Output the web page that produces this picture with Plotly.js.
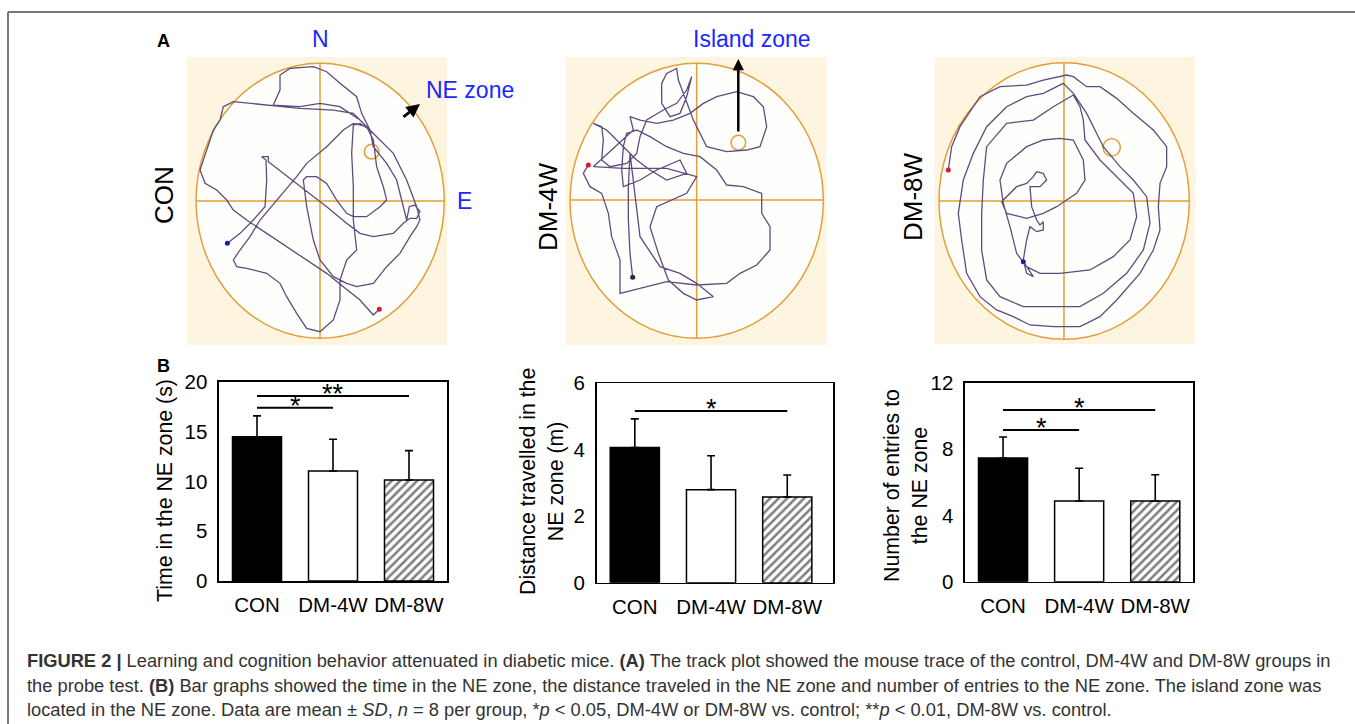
<!DOCTYPE html>
<html>
<head>
<meta charset="utf-8">
<script src="https://cdn.plot.ly/plotly-3.0.1.min.js"></script>
<style>html,body{margin:0;padding:0;background:#fff;}#chart{width:1355px;height:724px;}</style>
</head>
<body>
<div id="chart"></div>
<script>
// ---------- DATA ----------
const groups = ['CON', 'DM-4W', 'DM-8W'];

const timeMean = [14.5, 11.05, 10.15];
const timeSD = [2.1, 3.2, 2.95];
const distMean = [4.07, 2.8, 2.58];
const distSD = [0.86, 1.02, 0.66];
const entriesMean = [7.46, 4.87, 4.87];
const entriesSD = [1.27, 1.97, 1.58];

const sigTimeFrom = [0, 0], sigTimeTo = [1, 2], sigTimeY = [17.4, 18.6], sigTimeLabel = ['*', '**'];
const sigDistFrom = [0], sigDistTo = [2], sigDistY = [5.17], sigDistLabel = ['*'];
const sigEntFrom = [0, 0], sigEntTo = [1, 2], sigEntY = [9.15, 10.36], sigEntLabel = ['*', '*'];

// Track plots (arena image units, y downward)
const conTrackX = [262,300,340,375,380,378,365,385,385,430,500,560,620,660,700,760,790,810,830,840,825,808,800,790,770,740,700,690,660,640,635,640,640,650,620,600,600,580,540,500,470,440,420,380,320,290,280,300,330,360,420,470,500,560,610,640,680,700,705,710,730,740,720,680,640,620,590,560,530,500,490,500,520,540,580,620,650,700,740,780,810,830,840,830,800,760,710,660,600,540,480,400,420,420,450,520,560,600,650,665,690,700,690,640,580,480,330,280,250,240,220,200,180,195,230,260,280,320,380,440,500,560,610,660,700,718];
const conTrackY = [670,640,600,560,480,420,410,410,425,460,515,560,610,640,650,640,610,595,595,575,555,560,600,560,480,430,380,330,310,315,400,500,600,690,720,780,840,900,935,925,880,830,790,760,745,740,720,690,650,600,530,470,430,380,330,310,320,360,400,440,500,540,560,590,590,580,540,490,470,470,480,560,660,720,770,790,800,790,740,700,650,620,600,560,480,400,350,300,260,250,260,255,210,165,145,140,155,190,230,280,330,380,330,280,270,265,250,245,260,300,330,390,450,490,510,540,570,600,640,680,720,760,800,840,885,868];

const dm4TrackX = [145,130,150,185,205,215,240,240,300,380,470,560,600,650,690,690,665,665,610,560,530,480,430,380,330,290,260,250,245,250,300,350,420,440,380,330,290,250,200,160,185,190,185,210,260,290,300,320,370,410,440,455,440,420,390,365,365,380,410,415,430,460,480,500,560,620,660,680,670,640,590,530,490,450,400,350,300,270,280,160,250,380,470,440,350,330,355,385,430,470,520,470,420,360,300,290,270,265,265,270,278];
const dm4TrackY = [435,460,500,520,580,650,720,820,805,785,795,790,760,735,690,620,580,520,500,495,450,410,400,380,350,330,340,380,450,500,480,450,420,460,480,450,420,380,330,310,320,360,420,440,430,400,350,300,270,250,210,170,230,280,290,250,190,160,145,180,220,300,340,380,395,390,380,320,260,230,215,230,250,280,300,310,300,290,330,440,445,445,470,520,560,620,700,780,820,840,830,790,760,740,650,560,400,500,600,700,772];

const dm8TrackX = [145,155,180,240,300,380,430,500,520,560,600,650,700,760,800,800,780,775,780,760,720,650,600,540,460,390,340,290,240,200,185,175,190,220,260,320,380,430,490,520,560,610,660,700,740,750,730,680,610,540,450,370,300,260,245,245,250,260,320,400,460,520,540,550,555,600,700,710,690,640,570,480,420,380,350,330,310,300,320,380,430,480,520,550,555,530,500,470,430,380,320,305,350,380,400,410,430,440,420,390,395,410,420,430,430,410,390,380,370,380,400,370];
const dm8TrackY = [390,320,260,170,140,135,120,105,110,140,140,175,220,270,320,380,430,500,570,630,700,780,830,860,860,855,830,810,770,700,600,520,420,340,260,200,170,160,130,160,220,320,380,420,470,550,630,700,760,800,800,800,770,720,630,520,420,320,250,240,200,165,200,240,300,360,460,530,600,650,690,700,700,680,640,560,490,420,370,320,300,295,300,360,420,460,480,500,520,535,520,485,440,430,410,395,400,420,440,440,500,540,555,545,570,575,560,600,660,700,710,665];

// ---------- LAYOUT HELPERS ----------
const W = 1355, H = 724;
const fx = p => p / W;
const fy = p => 1 - p / H;
const FONT = 'Liberation Sans, Arial, Helvetica, sans-serif';
const BLUE = 'rgb(25,40,255)';
const ORANGE = 'rgb(228,158,58)';
const TRACK = 'rgb(95,75,125)';

const data = [];
const shapes = [];
const annotations = [];
const layout = {
  width: W, height: H,
  margin: {l: 0, r: 0, t: 0, b: 0},
  paper_bgcolor: '#ffffff',
  plot_bgcolor: 'rgba(0,0,0,0)',
  showlegend: false,
  barmode: 'overlay',
  font: {family: FONT, color: '#000', size: 20},
  shapes: shapes,
  annotations: annotations
};

// ---------- BAR PANELS ----------
const barFills = ['#000000', '#ffffff', '#ffffff'];
const barHatch = ['', '', '/'];

function barPanel(idx, mean, sd, yMax, dtick, sigFrom, sigTo, sigY, sigLabel, dom, xMax, yTitle, titlePos) {
  const xa = 'x' + idx, ya = 'y' + idx;
  groups.forEach((g, i) => {
    const marker = {color: barFills[i], line: {color: '#000', width: 1.5}};
    if (barHatch[i]) marker.pattern = {shape: barHatch[i], fgcolor: '#000', bgcolor: '#fff', size: 6, solidity: 0.42, fillmode: 'overlay'};
    data.push({
      type: 'bar', x: [g], y: [mean[i]], xaxis: xa, yaxis: ya, width: 0.645,
      marker: marker,
      error_y: {type: 'data', symmetric: false, array: [sd[i]], arrayminus: [0], color: '#000', thickness: 1.6, width: 4},
      hoverinfo: 'skip'
    });
  });
  for (let i = 0; i < sigFrom.length; i++) {
    data.push({
      type: 'scatter', mode: 'lines', xaxis: xa, yaxis: ya,
      x: [groups[sigFrom[i]], groups[sigTo[i]]], y: [sigY[i], sigY[i]],
      line: {color: '#000', width: 2}, hoverinfo: 'skip'
    });
    annotations.push({
      xref: xa, yref: ya, x: (sigFrom[i] + sigTo[i]) / 2, y: sigY[i],
      text: sigLabel[i], showarrow: false, yanchor: 'bottom', xanchor: 'center', yshift: -15,
      font: {size: 27, family: FONT, color: '#000'}
    });
  }
  layout['xaxis' + idx] = {
    domain: [fx(dom[0]), fx(dom[1])], anchor: ya, range: [-0.5, xMax], type: 'category',
    categoryorder: 'array', categoryarray: groups,
    showline: true, linecolor: '#000', linewidth: 1.6, mirror: true,
    ticks: 'outside', ticklen: 5, tickcolor: 'rgba(0,0,0,0)',
    tickfont: {size: 20.5, family: FONT, color: '#000'}, showgrid: false, zeroline: false, fixedrange: true
  };
  layout['yaxis' + idx] = {
    domain: [fy(dom[3]), fy(dom[2])], anchor: xa, range: [0, yMax], dtick: dtick,
    showline: true, linecolor: '#000', linewidth: 1.6, mirror: true,
    ticks: 'outside', ticklen: 6, tickcolor: 'rgba(0,0,0,0)',
    tickfont: {size: 20.5, family: FONT, color: '#000'}, showgrid: false, zeroline: false, fixedrange: true
  };
  annotations.push({
    xref: 'paper', yref: 'paper', x: fx(titlePos[0]), y: fy(titlePos[1]),
    text: yTitle, textangle: -90, showarrow: false, xanchor: 'center', yanchor: 'middle',
    font: {size: 21.3, family: FONT, color: '#000'}
  });
}

barPanel(1, timeMean, timeSD, 20, 5, sigTimeFrom, sigTimeTo, sigTimeY, sigTimeLabel,
  [219, 447, 382, 581], 2.5, 'Time in the NE zone (s)', [165, 491]);
barPanel(2, distMean, distSD, 6, 2, sigDistFrom, sigDistTo, sigDistY, sigDistLabel,
  [596.7, 833, 383.3, 582.7], 2.6, 'Distance travelled in the<br>NE zone (m)', [542, 482]);
barPanel(3, entriesMean, entriesSD, 12, 4, sigEntFrom, sigEntTo, sigEntY, sigEntLabel,
  [965, 1193.3, 382.7, 581.7], 2.5, 'Number of entries to<br>the NE zone', [906, 486]);

// ---------- TRACK PANELS ----------
function trackPanel(idx, tx, ty, xr, yr, circ, ctr, tgt, dom, startColor, endColor) {
  const xa = 'x' + idx, ya = 'y' + idx;
  layout['xaxis' + idx] = {domain: [fx(dom[0]), fx(dom[1])], anchor: ya, range: xr, visible: false, fixedrange: true};
  layout['yaxis' + idx] = {domain: [fy(dom[3]), fy(dom[2])], anchor: xa, range: yr, visible: false, fixedrange: true};
  shapes.push({type: 'rect', xref: xa, yref: ya, x0: xr[0], x1: xr[1], y0: yr[0], y1: yr[1],
    fillcolor: 'rgb(253,245,224)', line: {width: 0}, layer: 'below'});
  shapes.push({type: 'circle', xref: xa, yref: ya, x0: circ[0], y0: circ[1], x1: circ[2], y1: circ[3],
    fillcolor: 'rgb(254,254,252)', line: {color: ORANGE, width: 1.5}, layer: 'below'});
  shapes.push({type: 'line', xref: xa, yref: ya, x0: circ[0], x1: circ[2], y0: ctr[1], y1: ctr[1],
    line: {color: ORANGE, width: 1.5}, layer: 'below'});
  shapes.push({type: 'line', xref: xa, yref: ya, x0: ctr[0], x1: ctr[0], y0: circ[1], y1: circ[3],
    line: {color: ORANGE, width: 1.5}, layer: 'below'});
  shapes.push({type: 'circle', xref: xa, yref: ya, x0: tgt[0] - tgt[2], x1: tgt[0] + tgt[2], y0: tgt[1] - tgt[2], y1: tgt[1] + tgt[2],
    line: {color: ORANGE, width: 1.5}, fillcolor: 'rgba(0,0,0,0)', layer: 'below'});
  data.push({type: 'scatter', mode: 'lines', x: tx, y: ty, xaxis: xa, yaxis: ya,
    line: {color: TRACK, width: 1.3}, hoverinfo: 'skip'});
  data.push({type: 'scatter', mode: 'markers', xaxis: xa, yaxis: ya,
    x: [tx[0], tx[tx.length - 1]], y: [ty[0], ty[ty.length - 1]],
    marker: {size: 5, color: [startColor, endColor]}, hoverinfo: 'skip'});
}

trackPanel(4, conTrackX, conTrackY, [140, 922], [975, 110], [168, 130, 913, 955], [540, 543], [695, 395, 22],
  [186.7, 447.3, 56.7, 345], 'rgb(30,30,160)', 'rgb(230,20,40)');
trackPanel(5, dm4TrackX, dm4TrackY, [78, 860], [975, 110], [90, 130, 850, 955], [470, 540], [595, 368, 22],
  [566, 826.7, 56.7, 345], 'rgb(230,20,40)', 'rgb(50,30,70)');
trackPanel(6, dm8TrackX, dm8TrackY, [103, 885], [913, 50], [117, 68, 868, 898], [492, 483], [635, 322, 26],
  [934.3, 1195, 56.7, 344.3], 'rgb(230,20,40)', 'rgb(30,30,160)');

// ---------- TEXT / LABELS ----------
function txt(x, y, text, size, color, extra) {
  annotations.push(Object.assign({xref: 'paper', yref: 'paper', x: fx(x), y: fy(y), text: text,
    showarrow: false, xanchor: 'center', yanchor: 'middle', font: {size: size, family: FONT, color: color}}, extra || {}));
}
txt(163, 41, '<b>A</b>', 18, '#000');
txt(163, 366, '<b>B</b>', 18, '#000');
txt(320, 39, 'N', 23, BLUE);
txt(470, 90, 'NE zone', 23, BLUE);
txt(464, 201, 'E', 23, BLUE);
txt(752, 39, 'Island zone', 23, BLUE);
txt(164, 195, 'CON', 26, '#000', {textangle: -90});
txt(548, 207, 'DM-4W', 26, '#000', {textangle: -90});
txt(913, 197, 'DM-8W', 26, '#000', {textangle: -90});

// arrows
annotations.push({xref: 'paper', yref: 'paper', x: fx(420), y: fy(104), ax: -18, ay: 14, text: '',
  showarrow: true, arrowhead: 2, arrowsize: 0.9, arrowwidth: 3, arrowcolor: '#000', standoff: 0});
annotations.push({xref: 'paper', yref: 'paper', x: fx(738.3), y: fy(59), ax: 0, ay: 74, text: '',
  showarrow: true, arrowhead: 2, arrowsize: 0.9, arrowwidth: 2.5, arrowcolor: '#000', standoff: 0});

// caption
const capLines = [
  '<b>FIGURE 2 |</b> Learning and cognition behavior attenuated in diabetic mice. <b>(A)</b> The track plot showed the mouse trace of the control, DM-4W and DM-8W groups in',
  'the probe test. <b>(B)</b> Bar graphs showed the time in the NE zone, the distance traveled in the NE zone and number of entries to the NE zone. The island zone was',
  'located in the NE zone. Data are mean ± <i>SD</i>, <i>n</i> = 8 per group, *<i>p</i> &lt; 0.05, DM-4W or DM-8W vs. control; **<i>p</i> &lt; 0.01, DM-8W vs. control.'
];
const capY = [660, 685, 709];
capLines.forEach((t, i) => {
  annotations.push({xref: 'paper', yref: 'paper', x: fx(25), y: fy(capY[i]), text: t, showarrow: false,
    xanchor: 'left', yanchor: 'middle', font: {size: 18.3, family: FONT, color: '#333'}});
});

// frame
shapes.push({type: 'line', xref: 'paper', yref: 'paper', x0: fx(8), x1: 1, y0: fy(12), y1: fy(12), line: {color: '#777', width: 2}});
shapes.push({type: 'line', xref: 'paper', yref: 'paper', x0: fx(8), x1: fx(8), y0: fy(12), y1: 0, line: {color: '#777', width: 2}});

Plotly.newPlot('chart', data, layout, {displayModeBar: false, staticPlot: true});
</script>
</body>
</html>
